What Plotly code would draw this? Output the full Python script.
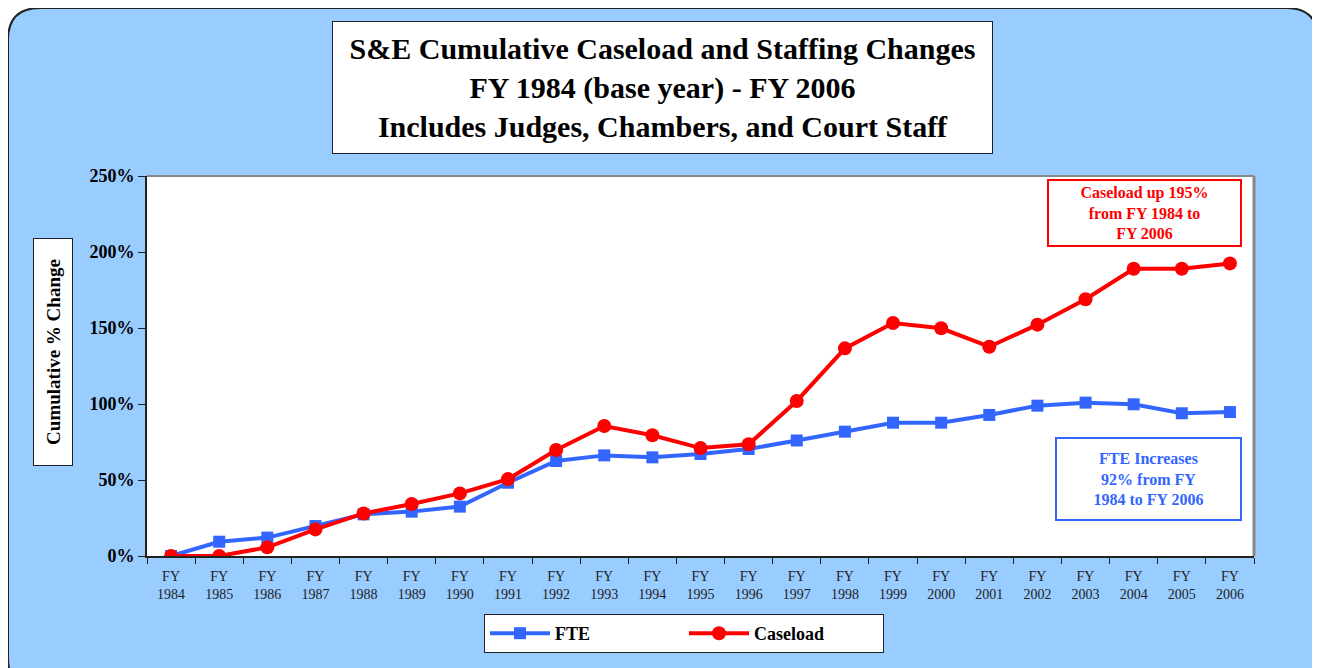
import plotly.graph_objects as go

years = [str(y) for y in range(1984, 2007)]
categories = ["FY<br>" + y for y in years]
fte = [0, 9.4, 12.1, 19.7, 27.4, 29.2, 32.5, 48.2, 62.5, 66.2, 64.9, 67.1, 70.4,
       76.0, 81.8, 87.7, 87.7, 92.8, 98.9, 100.9, 99.8, 93.9, 94.7]
caseload = [0, 0, 5.7, 17.5, 28.0, 34.2, 41.2, 50.6, 69.7, 85.5, 79.4, 71.0, 73.5,
            102.0, 136.6, 153.3, 149.8, 137.7, 152.2, 168.9, 189.0, 189.0, 192.5]
y_ticks = [0, 50, 100, 150, 200, 250]
y_tick_labels = ["0%", "50%", "100%", "150%", "200%", "250%"]

OFF = 8  # page body margin
W, H = 1320 - OFF, 668 - OFF
L, R, T, B = 147, 1254, 176, 556  # plot area in screen pixels


def px(x):
    return (x - L) / (R - L)


def py(y):
    return (B - y) / (B - T)


FONT = "Liberation Serif"
BLUE = "#3366FF"
RED = "#FF0000"
BG = "#99CCFF"

fig = go.Figure()
fig.add_trace(go.Scatter(
    x=categories, y=fte, name="FTE", mode="lines+markers",
    line=dict(color=BLUE, width=4),
    marker=dict(symbol="square", size=12, color=BLUE),
))
fig.add_trace(go.Scatter(
    x=categories, y=caseload, name="Caseload", mode="lines+markers",
    line=dict(color=RED, width=4),
    marker=dict(symbol="circle", size=14, color=RED),
))

# rounded blue background panel
x0, y0, x1, y1, r = 8, 8, 1318, 690, 32
path = (
    f"M {px(x0 + r)} {py(y0)} L {px(x1 - r)} {py(y0)} "
    f"Q {px(x1)} {py(y0)} {px(x1)} {py(y0 + r)} "
    f"L {px(x1)} {py(y1 - r)} Q {px(x1)} {py(y1)} {px(x1 - r)} {py(y1)} "
    f"L {px(x0 + r)} {py(y1)} Q {px(x0)} {py(y1)} {px(x0)} {py(y1 - r)} "
    f"L {px(x0)} {py(y0 + r)} Q {px(x0)} {py(y0)} {px(x0 + r)} {py(y0)} Z"
)
shapes = [
    dict(type="path", xref="paper", yref="paper", path=path,
         fillcolor=BG, line=dict(color="#222222", width=2), layer="below"),
    dict(type="rect", xref="paper", yref="paper", x0=0, y0=0, x1=1, y1=1,
         fillcolor="white", line=dict(width=0), layer="below"),
    dict(type="line", xref="paper", yref="paper", x0=0, y0=1, x1=1, y1=1,
         line=dict(color="#888888", width=2), layer="below"),
    dict(type="line", xref="paper", yref="paper", x0=1, y0=0, x1=1, y1=1,
         line=dict(color="#888888", width=3), layer="below"),
]

annotations = [
    dict(xref="paper", yref="paper", x=px(662.5), y=py(87.5),
         xanchor="center", yanchor="middle", showarrow=False,
         text="S&E Cumulative Caseload and Staffing Changes<br>FY 1984 (base year) - FY 2006<br>Includes Judges, Chambers, and Court Staff",
         font=dict(family=FONT, size=30, color="black", weight="bold"),
         align="center", bgcolor="white", bordercolor="#222222", borderwidth=1,
         borderpad=0, width=659, height=131),
    dict(xref="paper", yref="paper", x=px(53), y=py(352),
         xanchor="center", yanchor="middle", showarrow=False,
         text="Cumulative % Change", textangle=-90,
         font=dict(family=FONT, size=19, color="black", weight="bold"),
         bgcolor="white", bordercolor="#222222", borderwidth=1,
         borderpad=0, width=226, height=38),
    dict(xref="paper", yref="paper", x=px(1144.5), y=py(213),
         xanchor="center", yanchor="middle", showarrow=False,
         text="Caseload up 195%<br>from FY 1984 to<br>FY 2006",
         font=dict(family=FONT, size=16, color=RED, weight="bold"),
         align="center", bgcolor="white", bordercolor=RED, borderwidth=2,
         borderpad=0, width=191, height=64),
    dict(xref="paper", yref="paper", x=px(1148.5), y=py(479),
         xanchor="center", yanchor="middle", showarrow=False,
         text="FTE Increases<br>92% from FY<br>1984 to FY 2006",
         font=dict(family=FONT, size=16, color=BLUE, weight="bold"),
         align="center", bgcolor="white", bordercolor=BLUE, borderwidth=2,
         borderpad=0, width=183, height=80),
]

fig.update_layout(
    width=W, height=H,
    margin=dict(l=L - OFF, r=1320 - R, t=T - OFF, b=668 - B, pad=0),
    paper_bgcolor="white", plot_bgcolor="rgba(0,0,0,0)",
    shapes=shapes, annotations=annotations,
    showlegend=True,
    legend=dict(
        orientation="h", x=px(484), y=py(614), xanchor="left", yanchor="top",
        bgcolor="white", bordercolor="#222222", borderwidth=1,
        font=dict(family=FONT, size=18, color="black", weight="bold"),
        entrywidth=124, itemwidth=60,
    ),
    xaxis=dict(
        type="category", showgrid=False, zeroline=False,
        showline=True, linecolor="#222222", linewidth=2,
        ticks="outside", tickson="boundaries", ticklen=6, tickcolor="#222222",
        tickfont=dict(family=FONT, size=14, color="#222222"),
        ticklabelstandoff=6,
        range=[-0.5, 22.5],
    ),
    yaxis=dict(
        range=[0, 250], tickvals=y_ticks, ticktext=y_tick_labels,
        showgrid=False, zeroline=False,
        showline=True, linecolor="#222222", linewidth=2,
        ticks="outside", ticklen=7, tickcolor="#222222",
        tickfont=dict(family=FONT, size=18, color="black", weight="bold"),
    ),
)

fig.write_html("out.html")
